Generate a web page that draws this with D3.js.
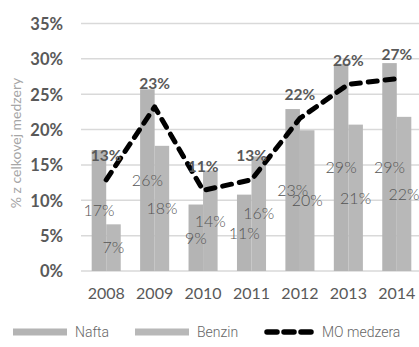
<!DOCTYPE html>
<html>
<head>
<meta charset="utf-8">
<script src="https://cdn.jsdelivr.net/npm/d3@7"></script>
<style>
  html, body { margin: 0; padding: 0; background: #fff; }
  svg { display: block; }
</style>
</head>
<body>
<svg id="chart" width="419" height="347"></svg>
<script>
// Tax gap shares by year (fraction of the total gap)
const years = ["2008", "2009", "2010", "2011", "2012", "2013", "2014"];
const nafta = [0.171, 0.257, 0.094, 0.108, 0.229, 0.293, 0.294];
const benzin = [0.066, 0.177, 0.142, 0.162, 0.199, 0.207, 0.218];
const moMedzera = [0.129, 0.232, 0.114, 0.129, 0.216, 0.264, 0.272];
const yTicks = [0, 0.05, 0.10, 0.15, 0.20, 0.25, 0.30, 0.35];
const seriesNames = ["Nafta", "Benzin", "MO medzera"];

const W = 419, H = 347;
const plot = { left: 82, right: 421, top: 23.5, bottom: 271 };
const font = "Lato, 'Open Sans', 'Liberation Sans', sans-serif";
const textGray = "#595959";

const svg = d3.select("#chart");

const x = d3.scaleBand().domain(years).range([plot.left, plot.right]).paddingInner(0.4).paddingOuter(0.2);
const x1 = d3.scaleBand().domain(["Nafta", "Benzin"]).range([0, x.bandwidth()]);
const y = d3.scaleLinear().domain([0, 0.35]).range([plot.bottom, plot.top]);
const pct = d3.format(".0%");

// Horizontal gridlines
svg.append("g").selectAll("line").data(yTicks).join("line")
  .attr("x1", plot.left - 1).attr("x2", W)
  .attr("y1", d => y(d)).attr("y2", d => y(d))
  .attr("stroke", "#d9d9d9").attr("stroke-width", 1.5);

// Y axis labels
const yAxis = d3.axisLeft(y).tickValues(yTicks).tickFormat(pct).tickSize(0).tickPadding(0);
const ya = svg.append("g").attr("transform", "translate(63,0)").call(yAxis);
ya.select(".domain").remove();
ya.selectAll("text")
  .attr("font-family", font).attr("font-size", 16.5).attr("font-weight", 700)
  .attr("fill", textGray).attr("dy", "0.36em");

// Y axis title
svg.append("text")
  .attr("transform", "translate(21,143) rotate(-90)")
  .attr("text-anchor", "middle")
  .attr("font-family", font).attr("font-size", 14)
  .attr("fill", "#a6a6a6")
  .text("% z celkovej medzery");

// X axis labels
const xAxis = d3.axisBottom(x).tickSize(0).tickPadding(0);
const xa = svg.append("g").attr("transform", "translate(0,288)").call(xAxis);
xa.select(".domain").remove();
xa.selectAll("text")
  .attr("font-family", font).attr("font-size", 16)
  .attr("fill", textGray).attr("dy", "0.71em");

// Bars
const barData = years.map((yr, i) => ({ year: yr, values: [
  { key: "Nafta", v: nafta[i], color: "#b4b4b4" },
  { key: "Benzin", v: benzin[i], color: "#b8b8b8" }
]}));

const groups = svg.append("g").selectAll("g").data(barData).join("g")
  .attr("transform", d => `translate(${x(d.year)},0)`);

groups.selectAll("rect").data(d => d.values).join("rect")
  .attr("x", d => x1(d.key))
  .attr("width", x1.bandwidth())
  .attr("y", d => y(d.v))
  .attr("height", d => y(0) - y(d.v))
  .attr("fill", d => d.color);

// Bar value labels, centred in each bar
groups.selectAll("text").data(d => d.values).join("text")
  .attr("x", d => x1(d.key) + x1.bandwidth() / 2)
  .attr("y", d => (y(d.v) + y(0)) / 2)
  .attr("dy", "0.36em")
  .attr("text-anchor", "middle")
  .attr("font-family", font).attr("font-size", 16).attr("font-weight", 300)
  .attr("fill", "#555")
  .text(d => pct(d.v));

// MO medzera line
const cx = yr => x(yr) + x.bandwidth() / 2;
const lineData = years.map((yr, i) => ({ year: yr, v: moMedzera[i] }));
const line = d3.line().x(d => cx(d.year)).y(d => y(d.v));

svg.append("path")
  .datum(lineData)
  .attr("d", line)
  .attr("fill", "none")
  .attr("stroke", "#000")
  .attr("stroke-width", 5)
  .attr("stroke-linecap", "round")
  .attr("stroke-linejoin", "round")
  .attr("stroke-dasharray", "9 8");

// Line value labels, above each point
svg.append("g").selectAll("text").data(lineData).join("text")
  .attr("x", d => cx(d.year))
  .attr("y", d => y(d.v) - 24)
  .attr("dy", "0.36em")
  .attr("text-anchor", "middle")
  .attr("font-family", font).attr("font-size", 15.5).attr("font-weight", 700)
  .attr("fill", textGray)
  .text(d => pct(d.v));

// Legend
const legendY = 332;
const legend = svg.append("g");
const legendItems = [
  { name: seriesNames[0], x: 13, type: "bar", color: "#b4b4b4" },
  { name: seriesNames[1], x: 135, type: "bar", color: "#b8b8b8" },
  { name: seriesNames[2], x: 264, type: "line" }
];
legendItems.forEach(it => {
  if (it.type === "bar") {
    legend.append("rect")
      .attr("x", it.x).attr("y", legendY - 3.5)
      .attr("width", 54).attr("height", 7)
      .attr("fill", it.color);
  } else {
    legend.append("line")
      .attr("x1", it.x + 3).attr("x2", it.x + 51)
      .attr("y1", legendY).attr("y2", legendY)
      .attr("stroke", "#000").attr("stroke-width", 5.5)
      .attr("stroke-linecap", "round")
      .attr("stroke-dasharray", "10 7");
  }
  legend.append("text")
    .attr("x", it.x + (it.type === "bar" ? 62 : 58))
    .attr("y", legendY).attr("dy", "0.36em")
    .attr("font-family", "'Liberation Sans Narrow', 'Roboto', sans-serif")
    .attr("font-size", 14).attr("font-weight", 300)
    .attr("fill", "#666")
    .text(it.name);
});
</script>
</body>
</html>
